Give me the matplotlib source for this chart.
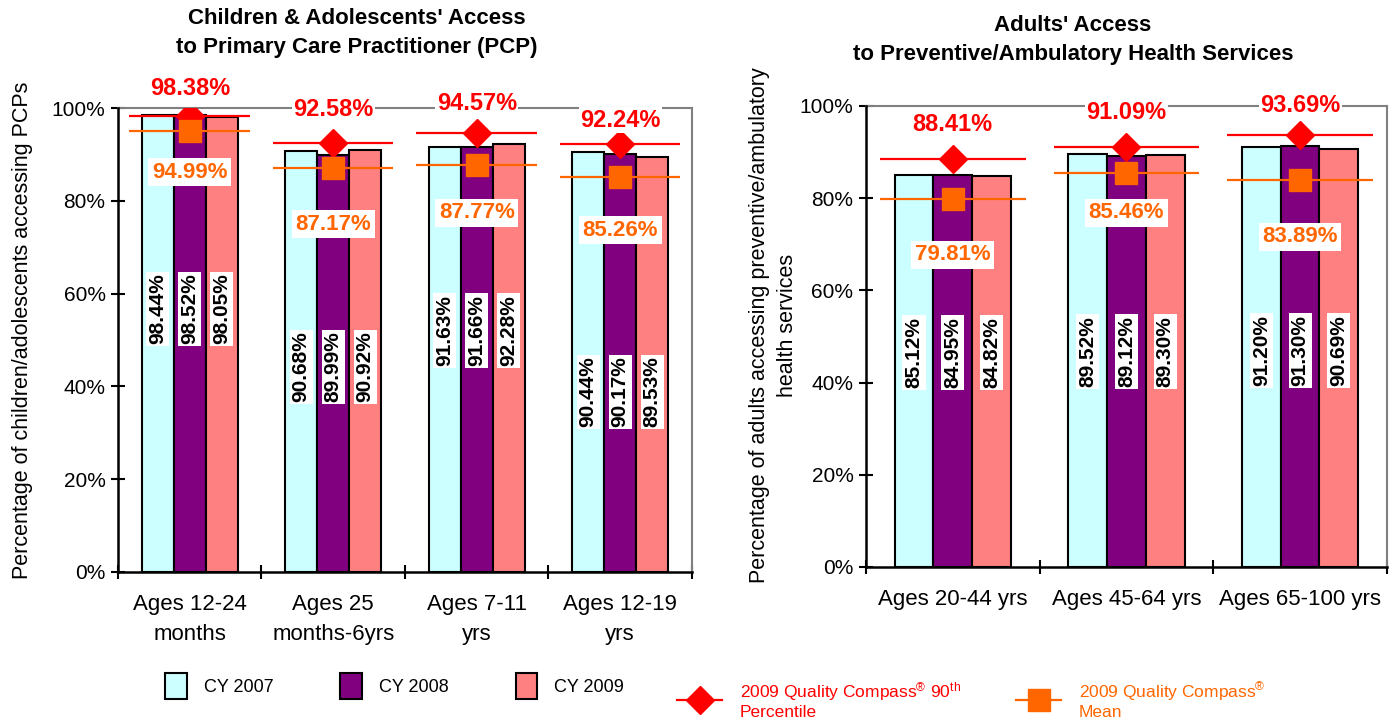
"""
Access-to-care comparison: children/adolescents vs. adults,
three calendar years against the 2009 Quality Compass benchmarks.
"""

import numpy as np
import matplotlib
matplotlib.use("Agg")
import matplotlib.pyplot as plt
from matplotlib.patches import Patch
from matplotlib.lines import Line2D
from matplotlib.ticker import FuncFormatter, FixedLocator

plt.rcParams["font.family"] = ["Liberation Sans", "DejaVu Sans"]
plt.rcParams["mathtext.fontset"] = "custom"
plt.rcParams["mathtext.rm"] = "Liberation Sans"
plt.rcParams["mathtext.it"] = "Liberation Sans:italic"
plt.rcParams["mathtext.bf"] = "Liberation Sans:bold"

# ---- data: children & adolescents ----
child_groups = ["Ages 12-24\nmonths", "Ages 25\nmonths-6yrs", "Ages 7-11\nyrs", "Ages 12-19\nyrs"]
child_cy2007 = [98.44, 90.68, 91.63, 90.44]
child_cy2008 = [98.52, 89.99, 91.66, 90.17]
child_cy2009 = [98.05, 90.92, 92.28, 89.53]
child_p90 = [98.38, 92.58, 94.57, 92.24]
child_mean = [94.99, 87.17, 87.77, 85.26]

# ---- data: adults ----
adult_groups = ["Ages 20-44 yrs", "Ages 45-64 yrs", "Ages 65-100 yrs"]
adult_cy2007 = [85.12, 89.52, 91.20]
adult_cy2008 = [84.95, 89.12, 91.30]
adult_cy2009 = [84.82, 89.30, 90.69]
adult_p90 = [88.41, 91.09, 93.69]
adult_mean = [79.81, 85.46, 83.89]

# label placement (height of label centre, in % units)
child_bar_label_y = [56.7, 44.2, 52.0, 38.8]
child_mean_label_y = [86.2, 75.0, 77.4, 73.7]
child_p90_label_y = [104.3, 99.8, 101.0, 97.4]
adult_bar_label_y = [46.6, 46.8, 47.0]
adult_mean_label_y = [67.7, 76.8, 71.6]
adult_p90_label_y = [95.9, 98.5, 100.0]

YEAR_COLORS = ["#CCFFFF", "#800080", "#FF8080"]
YEAR_NAMES = ["CY 2007", "CY 2008", "CY 2009"]
RED = "#FF0000"
ORANGE = "#FF6600"
GREY = "#808080"
BAR_W = 0.223
LINE_HALF = 0.42


def draw_panel(ax, groups, years, p90, mean, bar_label_y, mean_label_y, p90_label_y):
    x = np.arange(len(groups))

    for i, (vals, color) in enumerate(zip(years, YEAR_COLORS)):
        xs = x + (i - 1) * BAR_W
        ax.bar(xs, vals, width=BAR_W, color=color, edgecolor="black",
               linewidth=1.5, zorder=2)
        for xi, v, ly in zip(xs, vals, bar_label_y):
            ax.text(xi, ly, f"{v:.2f}%", rotation=90, ha="center", va="center",
                    fontsize=15, fontweight="bold", color="black", zorder=6,
                    bbox=dict(facecolor="white", edgecolor="none", pad=1.5))

    # benchmark lines and markers
    ax.hlines(p90, x - LINE_HALF, x + LINE_HALF, color=RED, linewidth=1.6, zorder=3)
    ax.hlines(mean, x - LINE_HALF, x + LINE_HALF, color=ORANGE, linewidth=1.6, zorder=3)
    ax.plot(x, p90, linestyle="none", marker="D", markersize=14,
            color=RED, zorder=4)
    ax.plot(x, mean, linestyle="none", marker="s", markersize=16,
            color=ORANGE, zorder=4)

    for xi, v, ly in zip(x, p90, p90_label_y):
        ax.text(xi, ly, f"{v:.2f}%", ha="center", va="center", fontsize=17,
                fontweight="bold", color=RED, zorder=7, clip_on=False,
                bbox=dict(facecolor="white", edgecolor="none", pad=1.0))
    for xi, v, ly in zip(x, mean, mean_label_y):
        ax.text(xi, ly, f"{v:.2f}%", ha="center", va="center", fontsize=16,
                fontweight="bold", color=ORANGE, zorder=7,
                bbox=dict(facecolor="white", edgecolor="none", pad=2.5))

    ax.set_xlim(-0.5, len(groups) - 0.5)
    ax.set_ylim(0, 100)
    ax.set_yticks(np.arange(0, 101, 20))
    ax.yaxis.set_major_formatter(FuncFormatter(lambda v, _: f"{v:.0f}%"))
    ax.tick_params(axis="y", direction="inout", length=10, width=1.5,
                   labelsize=15, pad=4)

    ax.set_xticks(x)
    ax.set_xticklabels(groups, fontsize=16, linespacing=1.55)
    ax.tick_params(axis="x", which="major", length=0, pad=16)
    ax.xaxis.set_minor_locator(FixedLocator(np.arange(-0.5, len(groups), 1.0)))
    ax.tick_params(axis="x", which="minor", direction="inout", length=10, width=1.5)

    for side in ("left", "bottom"):
        ax.spines[side].set_color("black")
        ax.spines[side].set_linewidth(1.8)
        ax.spines[side].set_zorder(5)
    for side in ("top", "right"):
        ax.spines[side].set_color(GREY)
        ax.spines[side].set_linewidth(1.5)


fig = plt.figure(figsize=(13.9, 7.21), dpi=100, facecolor="white")

ax_child = fig.add_axes([0.0849, 0.2067, 0.4129, 0.6433])
draw_panel(ax_child, child_groups, [child_cy2007, child_cy2008, child_cy2009],
           child_p90, child_mean, child_bar_label_y, child_mean_label_y,
           child_p90_label_y)
ax_child.set_ylabel("Percentage of children/adolescents accessing PCPs", fontsize=15.5)
ax_child.yaxis.set_label_coords(-0.148, 0.52)

ax_adult = fig.add_axes([0.6230, 0.2136, 0.3748, 0.6394])
draw_panel(ax_adult, adult_groups, [adult_cy2007, adult_cy2008, adult_cy2009],
           adult_p90, adult_mean, adult_bar_label_y, adult_mean_label_y,
           adult_p90_label_y)
ax_adult.set_ylabel("Percentage of adults accessing preventive/ambulatory\nhealth services",
                    fontsize=15.5, linespacing=1.45)
ax_adult.yaxis.set_label_coords(-0.13, 0.525)

# panel titles
fig.text(357 / 1390, 1 - 33 / 721,
         "Children & Adolescents' Access\nto Primary Care Practitioner (PCP)",
         ha="center", va="center", fontsize=16, fontweight="bold", linespacing=1.5)
fig.text(1073 / 1390, 1 - 40 / 721,
         "Adults' Access\nto Preventive/Ambulatory Health Services",
         ha="center", va="center", fontsize=16, fontweight="bold", linespacing=1.5)

# legend: calendar years
year_handles = [Patch(facecolor=c, edgecolor="black", linewidth=1.5) for c in YEAR_COLORS]
leg_years = fig.legend(year_handles, YEAR_NAMES, loc="center left",
                       bbox_to_anchor=(165 / 1390, 1 - 686 / 721), ncol=3,
                       frameon=False, fontsize=13, handlelength=1.2,
                       handleheight=1.8, handletextpad=0.95, columnspacing=3.7,
                       borderpad=0, borderaxespad=0)

# legend: benchmarks
bench_handles = [
    Line2D([], [], color=RED, linewidth=1.6, marker="D", markersize=14),
    Line2D([], [], color=ORANGE, linewidth=1.6, marker="s", markersize=16),
]
bench_names = [
    "2009 Quality Compass$^{®}$ 90$^{\\mathrm{th}}$\nPercentile",
    "2009 Quality Compass$^{®}$\nMean",
]
leg_bench = fig.legend(bench_handles, bench_names, loc="center left",
                       bbox_to_anchor=(677 / 1390, 1 - 700 / 721), ncol=2,
                       frameon=False, fontsize=12.5, handlelength=2.6,
                       handletextpad=1.0, columnspacing=3.2,
                       borderpad=0, borderaxespad=0)
for txt, col in zip(leg_bench.get_texts(), [RED, ORANGE]):
    txt.set_color(col)

fig.savefig("out.png", dpi=100, facecolor="white")
plt.close(fig)
